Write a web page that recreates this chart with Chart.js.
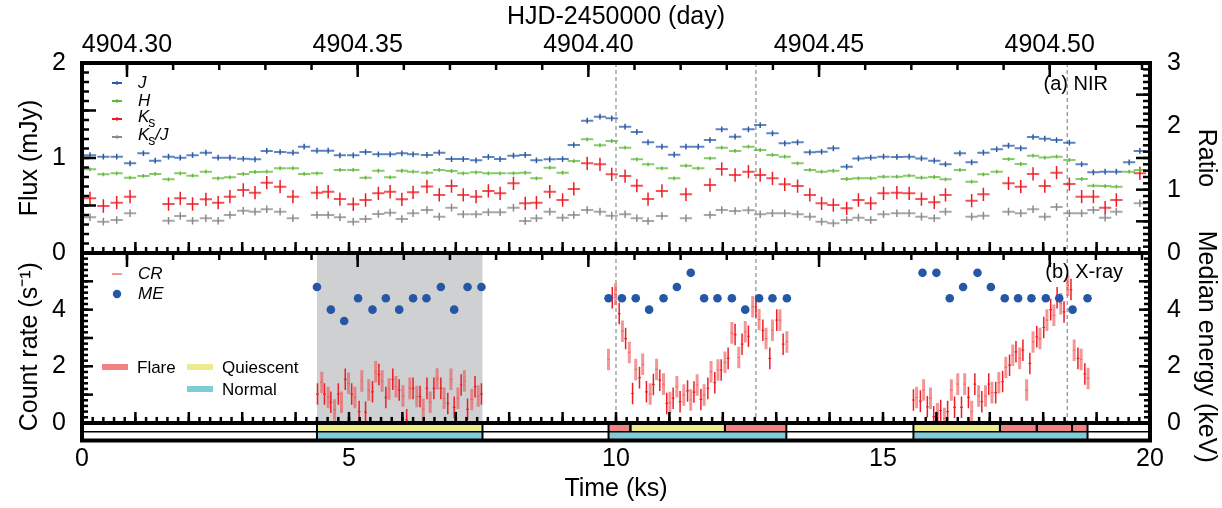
<!DOCTYPE html>
<html>
<head>
<meta charset="utf-8">
<title>NIR and X-ray light curves</title>
<script src="https://cdn.jsdelivr.net/npm/chart.js@4.4.1/dist/chart.umd.min.js"></script>
<style>
  html, body { margin: 0; padding: 0; background: #fff; }
  #wrap { width: 1222px; height: 508px; position: relative; }
</style>
</head>
<body>
<div id="wrap"><canvas id="lc" width="1222" height="508"></canvas></div>
<script>
const FONT = "'Liberation Sans', Arial, Helvetica, sans-serif";

// HJD-2450000 at t = 0 ks
const HJD0 = 4904.29025;
const KS_PER_DAY = 86.4;

// ── NIR light curves (top panel) ────────────────────────────────────────────
const nirTime = [
  0.15, 0.40, 0.65, 0.90, 1.15, 1.37, 1.62, 1.84, 2.07, 2.32,
  2.55, 2.77, 3.02, 3.24, 3.46, 3.71, 3.95, 4.16, 4.40, 4.61,
  4.83, 5.08, 5.31, 5.55, 5.77, 5.99, 6.20, 6.46, 6.69, 6.92,
  7.14, 7.38, 7.61, 7.83, 8.08, 8.30, 8.51, 8.76, 9.00, 9.21,
  9.46, 9.70, 9.92, 10.17, 10.39, 10.60, 10.86, 11.09, 11.31, 11.54,
  11.76, 11.98, 12.23, 12.48, 12.70, 12.93, 13.16, 13.40, 13.63, 13.85,
  14.07, 14.32, 14.54, 14.77, 15.01, 15.26, 15.49, 15.72, 15.96, 16.17,
  16.44, 16.66, 16.88, 17.13, 17.35, 17.58, 17.81, 18.03, 18.25, 18.49,
  18.72, 18.94, 19.16, 19.37, 19.61, 19.81
];
const fluxJ = [
  1.03, 1.014, 1.014, 0.944, 1.05, 0.972, 1.014, 1.003, 1.03, 1.056,
  1.003, 1.003, 0.992, 0.986, 1.074, 1.063, 1.056, 1.119, 1.077, 1.077,
  1.028, 1.028, 1.063, 1.039, 1.039, 1.049, 1.039, 1.032, 1.056, 0.989,
  0.989, 0.976, 1.011, 0.989, 1.024, 1.032, 0.976, 0.986, 0.989, 1.137,
  1.393, 1.435, 1.418, 1.33, 1.274, 1.165, 1.119, 1.035, 1.119, 1.119,
  1.189, 1.302, 1.225, 1.302, 1.347, 1.26, 1.155, 1.165, 1.06, 1.066,
  1.102, 0.908, 0.996, 1.003, 1.014, 1.011, 1.014, 0.996, 0.972, 0.934,
  1.049, 0.955, 1.056, 1.092, 1.13, 1.102, 1.221, 1.203, 1.189, 1.161,
  0.934, 0.849, 0.856, 0.856, 0.955, 1.074
];
const fluxH = [
  0.881, 0.828, 0.839, 0.793, 0.811, 0.832, 0.776, 0.839, 0.814, 0.856,
  0.786, 0.797, 0.832, 0.853, 0.856, 0.892, 0.892, 0.832, 0.839, null,
  0.874, 0.874, 0.793, 0.866, 0.797, 0.866, 0.856, 0.845, 0.874, 0.863,
  0.839, 0.849, 0.839, 0.839, 0.839, 0.845, 0.786, 0.898, 0.845, 0.968,
  1.197, 1.134, 1.179, 1.109, 0.986, 0.933, 0.891, 0.786, 0.919, 0.891,
  0.997, 1.109, 1.074, 1.119, 1.084, 1.032, 1.014, 0.944, 0.874, 0.856,
  0.866, 0.779, 0.786, 0.786, 0.803, 0.803, 0.814, 0.793, 0.8, 0.776,
  0.874, 0.751, 0.828, 0.856, 0.989, 0.937, 1.025, 1.004, 1.014, 0.979,
  0.779, 0.709, 0.705, 0.698, 0.856, 0.874
];
const fluxKs = [
  0.576, 0.495, 0.53, 0.593, null, null, 0.516, 0.576, 0.516, 0.565,
  0.53, 0.593, 0.663, 0.635, 0.74, 0.698, 0.593, null, 0.635, 0.645,
  0.568, 0.513, 0.558, 0.628, 0.645, 0.565, 0.639, 0.70, 0.611, 0.705,
  0.611, 0.593, 0.653, 0.628, 0.733, 0.523, 0.53, 0.646, 0.558, 0.674,
  0.944, 0.933, 0.828, 0.81, 0.709, 0.568, 0.653, null, 0.618, null,
  0.716, 0.884, 0.821, 0.856, 0.821, 0.786, 0.723, 0.705, 0.611, 0.523,
  0.505, 0.47, 0.558, 0.523, 0.628, 0.635, 0.628, 0.568, 0.533, 0.611,
  null, 0.551, 0.618, null, 0.733, 0.698, 0.832, 0.705, 0.846, 0.726,
  0.593, 0.593, 0.477, 0.558, null, 0.839
];
const ratioKsJ = [
  0.564, 0.495, 0.521, 0.627, null, null, 0.51, 0.585, 0.51, 0.548,
  0.51, 0.6, 0.668, 0.653, 0.69, 0.653, 0.548, null, 0.6, 0.6,
  0.564, 0.495, 0.537, 0.616, 0.637, 0.537, 0.627, 0.679, 0.574, 0.716,
  0.611, 0.611, 0.643, 0.643, 0.716, 0.506, 0.548, 0.653, 0.558, 0.6,
  0.679, 0.653, 0.59, 0.611, 0.548, 0.506, 0.585, null, 0.548, null,
  0.6, 0.679, 0.664, 0.674, 0.611, 0.627, 0.627, 0.611, 0.574, 0.495,
  0.469, 0.521, 0.558, 0.521, 0.611, 0.627, 0.627, 0.574, 0.548, 0.653,
  null, 0.574, 0.59, null, 0.653, 0.627, 0.69, 0.574, 0.727, 0.627,
  0.627, 0.679, 0.558, 0.653, null, 0.785
];
const nirHalfBin = 0.115;
const errJ = 0.03;
const errH = 0.02;
const errKs = 0.07;
const errRatio = 0.06;

// ── X-ray light curve (bottom panel) ────────────────────────────────────────
const crTime = [
  4.41, 4.49, 4.54, 4.61, 4.66, 4.73, 4.80, 4.86, 4.93, 4.99,
  5.05, 5.11, 5.19, 5.24, 5.31, 5.37, 5.44, 5.50, 5.56, 5.62,
  5.69, 5.75, 5.82, 5.88, 5.94, 6.01, 6.08, 6.14, 6.20, 6.27,
  6.33, 6.39, 6.46, 6.52, 6.59, 6.65, 6.72, 6.78, 6.85, 6.91,
  6.97, 7.04, 7.10, 7.16, 7.22, 7.30, 7.36, 7.42, 7.48,
  9.86, 9.93, 9.99, 10.06, 10.12, 10.18, 10.25, 10.31, 10.37, 10.44,
  10.50, 10.57, 10.64, 10.70, 10.76, 10.82, 10.89, 10.95, 11.01, 11.07,
  11.14, 11.20, 11.27, 11.34, 11.40, 11.46, 11.52, 11.59, 11.65, 11.72,
  11.78, 11.85, 11.91, 11.97, 12.04, 12.10, 12.17, 12.23, 12.30, 12.36,
  12.42, 12.48, 12.56, 12.62, 12.68, 12.75, 12.81, 12.88, 12.93, 13.01,
  13.07, 13.13, 13.20,
  15.57, 15.63, 15.70, 15.76, 15.83, 15.89, 15.95, 16.02, 16.08, 16.15,
  16.21, 16.28, 16.34, 16.40, 16.47, 16.53, 16.60, 16.66, 16.72, 16.79,
  16.85, 16.92, 16.98, 17.04, 17.11, 17.17, 17.24, 17.30, 17.37, 17.43,
  17.49, 17.56, 17.62, 17.69, 17.75, 17.81, 17.88, 17.94, 18.01, 18.07,
  18.14, 18.20, 18.26, 18.33, 18.39, 18.46, 18.52, 18.58, 18.65, 18.71,
  18.78, 18.84
];
const crRate = [
  1.02, 1.43, 1.02, 0.90, 0.73, 0.46, 1.02, 0.73, 1.54, 1.40,
  1.02, 0.90, 0.40, 1.48, 0.38, 1.16, 1.10, 1.81, 1.71, 1.48,
  0.90, 1.20, 1.54, 1.28, 1.16, 0.95, 0.11, 1.22, 1.22, 0.93,
  0.93, 0.48, 1.22, 0.73, 1.22, 1.55, 1.22, 0.87, 0.69, 1.54,
  0.55, 0.87, 1.34, 1.48, 0.48, 0.83, 1.28, 0.95, 1.02,
  2.24, 4.42, 4.54, 3.86, 3.24, 2.98, 2.49, 1.04, 1.89, 1.60,
  2.07, 1.10, 1.02, 1.36, 1.89, 1.51, 1.37, 0.69, 0.72, 0.87,
  1.28, 0.75, 0.99, 1.13, 0.81, 1.09, 1.34, 0.83, 0.99, 1.22,
  1.81, 1.42, 1.87, 1.87, 2.14, 2.28, 3.18, 3.12, 2.31, 2.78,
  3.22, 3.06, 4.10, 4.10, 3.65, 3.27, 2.98, 2.28, 3.27, 3.63,
  3.63, 2.78, 2.86,
  0.81, 0.90, 0.77, 1.16, 0.57, 0.87, 0.22, 0.32, 0.44, 0.16,
  0.40, 1.16, 0.55, 1.37, 0.55, 1.37, 0.90, 0.40, 1.37, 0.95,
  0.75, 0.95, 1.37, 1.07, 1.07, 1.42, 1.46, 1.96, 2.04, 2.39,
  2.51, 2.28, 2.57, 1.16, 2.10, 2.86, 3.04, 2.98, 3.37, 3.63,
  4.00, 3.80, 4.42, 4.21, 3.92, 4.86, 4.71, 2.57, 2.28, 2.24,
  1.73, 1.57
];
const crErr = 0.38;
const crHalfBin = 0.025;

const meTime = [
  4.40, 4.66, 4.91, 5.17, 5.44, 5.69, 5.94, 6.20, 6.45, 6.72, 6.97, 7.22, 7.48,
  9.86, 10.11, 10.37, 10.62, 10.89, 11.14, 11.40, 11.65, 11.90, 12.17, 12.42, 12.68, 12.93, 13.20,
  15.74, 16.00, 16.25, 16.50, 16.77, 17.02, 17.28, 17.53, 17.78, 18.05, 18.30, 18.55, 18.83
];
const meValue = [
  4.8, 4.0, 3.6, 4.4, 4.0, 4.4, 4.0, 4.4, 4.4, 4.8, 4.0, 4.8, 4.8,
  4.4, 4.4, 4.4, 4.0, 4.4, 4.8, 5.3, 4.4, 4.4, 4.4, 4.0, 4.4, 4.4, 4.4,
  5.3, 5.3, 4.4, 4.8, 5.3, 4.8, 4.4, 4.4, 4.4, 4.4, 4.4, 4.0, 4.4
];

// flare peaks (dotted lines) and the shaded interval
const flarePeaks = [10.00, 12.62, 18.45];
const shadedSpan = [4.40, 7.50];

// activity states along the time axis
const stateStart = [4.40, 9.86, 10.27, 12.04, 15.57, 17.19, 17.88, 18.54];
const stateEnd   = [7.50, 10.27, 12.04, 13.19, 17.19, 17.88, 18.54, 18.83];
const stateName  = ['Quiescent', 'Flare', 'Quiescent', 'Flare', 'Quiescent', 'Flare', 'Flare', 'Flare'];
const normalStart = [4.40, 9.86, 15.57];
const normalEnd   = [7.50, 13.19, 18.83];

// tick labels
const timeTicks = [0, 5, 10, 15, 20];
const hjdTicks = [4904.30, 4904.35, 4904.40, 4904.45, 4904.50];
const fluxTicks = [0, 1, 2];
const ratioTicks = [0, 1, 2, 3];
const rateTicks = [0, 2, 4];
const energyTicks = [0, 2, 4];

const colors = {
  J: '#2b5ba8',
  H: '#62b83a',
  Ks: '#ee1c24',
  ratio: '#8a8a8a',
  me: '#2457a5',
  cr: '#ee1c24',
  crLight: 'rgba(238,80,80,0.6)',
  shade: '#cfd0d2',
  Flare: '#f08282',
  Quiescent: '#ecec8c',
  Normal: '#80ccd6',
};

// ── helpers ─────────────────────────────────────────────────────────────────

// horizontal bars (time bin) as separate line segments
function hBars(xs, ys, half) {
  const out = [];
  xs.forEach((t, i) => {
    if (ys[i] == null) return;
    out.push({ x: t - half, y: ys[i] }, { x: t + half, y: ys[i] }, { x: t, y: null });
  });
  return out;
}

// vertical error bars
function vBars(xs, ys, err) {
  const out = [];
  xs.forEach((t, i) => {
    if (ys[i] == null) return;
    out.push({ x: t, y: ys[i] - err }, { x: t, y: ys[i] + err }, { x: t, y: null });
  });
  return out;
}

const everyOther = (arr, parity) => arr.filter((_, i) => i % 2 === parity);

function segs(data, color, width, yAxisID) {
  return {
    type: 'line', data, xAxisID: 'x', yAxisID,
    borderColor: color, borderWidth: width, borderCapStyle: 'butt',
    pointRadius: 0, fill: false, tension: 0, spanGaps: false,
  };
}

function crossSet(ys, err, color, yAxisID) {
  return [
    segs(vBars(nirTime, ys, err), color, 1.5, yAxisID),
    segs(hBars(nirTime, ys, nirHalfBin), color + 'c0', 2, yAxisID),
  ];
}

const crDark = [everyOther(crTime, 0), everyOther(crRate, 0)];
const crSoft = [everyOther(crTime, 1), everyOther(crRate, 1)];

// ── axis decoration ─────────────────────────────────────────────────────────

function tickRun(ctx, scale, step, lo, hi, len, fixed, sign, horizontal) {
  const first = Math.ceil(lo / step - 1e-6);
  const last = Math.floor(hi / step + 1e-6);
  for (let k = first; k <= last; k++) {
    const p = scale.getPixelForValue(k * step);
    ctx.beginPath();
    if (horizontal) { ctx.moveTo(p, fixed); ctx.lineTo(p, fixed + sign * len); }
    else { ctx.moveTo(fixed, p); ctx.lineTo(fixed + sign * len, p); }
    ctx.stroke();
  }
}

function drawStateStrip(chart) {
  const { ctx, scales: { x, yRate } } = chart;
  const y0 = yRate.getPixelForValue(0);
  const y1 = yRate.bottom;
  const yMid = (y0 + y1) / 2;
  ctx.save();
  ctx.fillStyle = '#fff';
  ctx.fillRect(x.left, y0, x.right - x.left, y1 - y0);

  stateStart.forEach((s, i) => {
    const a = x.getPixelForValue(s), b = x.getPixelForValue(stateEnd[i]);
    ctx.fillStyle = colors[stateName[i]];
    ctx.fillRect(a, y0, b - a, yMid - y0);
  });
  normalStart.forEach((s, i) => {
    const a = x.getPixelForValue(s), b = x.getPixelForValue(normalEnd[i]);
    ctx.fillStyle = colors.Normal;
    ctx.fillRect(a, yMid, b - a, y1 - yMid);
  });

  ctx.strokeStyle = '#000';
  ctx.lineWidth = 1.5;
  ctx.beginPath();
  ctx.moveTo(x.left, yMid); ctx.lineTo(x.right, yMid);
  ctx.stroke();

  ctx.lineWidth = 2;
  const edges = (starts, ends, top, bot) => {
    starts.concat(ends).forEach(t => {
      const p = x.getPixelForValue(t);
      ctx.beginPath(); ctx.moveTo(p, top); ctx.lineTo(p, bot); ctx.stroke();
    });
  };
  edges(stateStart, stateEnd, y0, yMid);
  edges(normalStart, normalEnd, yMid, y1);
  ctx.restore();
}

function drawFrames(chart) {
  const { ctx, scales: { x, x2, yFlux, yRatio, yRate, yME } } = chart;
  const w = x.right - x.left;
  const y0 = yRate.getPixelForValue(0);
  ctx.save();
  ctx.strokeStyle = '#000';

  // inward ticks
  ctx.lineWidth = 2.5;
  // top axis (HJD)
  tickRun(ctx, x2, 0.05, x2.min, x2.max, 14, yFlux.top, 1, true);
  tickRun(ctx, x2, 0.01, x2.min, x2.max, 7, yFlux.top, 1, true);
  // time ticks on the bottom of the NIR panel
  tickRun(ctx, x, 1, 0, 20, 11, yFlux.bottom, -1, true);
  tickRun(ctx, x, 0.2, 0, 20, 6, yFlux.bottom, -1, true);
  // HJD ticks on the top of the X-ray panel
  tickRun(ctx, x2, 0.05, x2.min, x2.max, 14, yRate.top, 1, true);
  tickRun(ctx, x2, 0.01, x2.min, x2.max, 7, yRate.top, 1, true);
  // time ticks on the count-rate zero line
  tickRun(ctx, x, 1, 0, 20, 11, y0, -1, true);
  tickRun(ctx, x, 0.2, 0, 20, 6, y0, -1, true);
  // flux / ratio
  tickRun(ctx, yFlux, 0.5, 0, 2, 14, x.left, 1, false);
  tickRun(ctx, yFlux, 0.1, 0, 2, 7, x.left, 1, false);
  tickRun(ctx, yRatio, 0.5, 0, 3, 14, x.right, -1, false);
  tickRun(ctx, yRatio, 0.1, 0, 3, 7, x.right, -1, false);
  // count rate / median energy
  tickRun(ctx, yRate, 1, 0, 6, 11, x.left, 1, false);
  tickRun(ctx, yRate, 0.2, 0, 6, 6, x.left, 1, false);
  tickRun(ctx, yME, 1, 0, 6, 11, x.right, -1, false);
  tickRun(ctx, yME, 0.2, 0, 6, 6, x.right, -1, false);

  // panel frames
  ctx.lineWidth = 4;
  ctx.strokeRect(x.left, yFlux.top, w, yFlux.bottom - yFlux.top);
  ctx.strokeRect(x.left, yRate.top, w, yRate.bottom - yRate.top);
  ctx.beginPath();
  ctx.moveTo(x.left, y0); ctx.lineTo(x.right, y0);
  ctx.stroke();
  ctx.restore();
}

function drawKs(ctx, px, py, size, slashJ) {
  ctx.font = `italic ${size}px ${FONT}`;
  ctx.fillText('K', px, py);
  let w = ctx.measureText('K').width;
  ctx.font = `${Math.round(size * 0.8)}px ${FONT}`;
  ctx.fillText('s', px + w - 1, py + 6);
  w += ctx.measureText('s').width - 1;
  if (slashJ) {
    ctx.font = `italic ${size}px ${FONT}`;
    ctx.fillText('/J', px + w, py);
  }
}

function drawLegends(chart) {
  const { ctx, chartArea: ca, scales: { yFlux, yRate } } = chart;
  ctx.save();
  ctx.textBaseline = 'middle';
  ctx.textAlign = 'left';
  ctx.fillStyle = '#000';

  // NIR legend
  const mx = ca.left + 35, tx = ca.left + 56;
  const nirRows = [colors.J, colors.H, colors.Ks, colors.ratio];
  nirRows.forEach((c, i) => {
    const y = yFlux.top + 20 + i * 18;
    ctx.strokeStyle = c;
    ctx.lineWidth = 2;
    ctx.beginPath(); ctx.moveTo(mx - 5, y); ctx.lineTo(mx + 5, y); ctx.stroke();
    ctx.lineWidth = 1.2;
    ctx.beginPath(); ctx.moveTo(mx, y - 2); ctx.lineTo(mx, y + 2); ctx.stroke();
  });
  ctx.fillStyle = '#000';
  ctx.font = `italic 17px ${FONT}`;
  ctx.fillText('J', tx, yFlux.top + 20);
  ctx.fillText('H', tx, yFlux.top + 38);
  drawKs(ctx, tx, yFlux.top + 54, 17, false);
  drawKs(ctx, tx, yFlux.top + 72, 17, true);

  // X-ray legend
  const yCR = yRate.top + 21, yME = yRate.top + 41;
  ctx.strokeStyle = colors.crLight;
  ctx.lineWidth = 2;
  ctx.beginPath(); ctx.moveTo(mx - 5, yCR); ctx.lineTo(mx + 5, yCR); ctx.stroke();
  ctx.fillStyle = colors.me;
  ctx.beginPath(); ctx.arc(mx, yME, 4.2, 0, Math.PI * 2); ctx.fill();
  ctx.fillStyle = '#000';
  ctx.font = `italic 17px ${FONT}`;
  ctx.fillText('CR', tx, yCR);
  ctx.fillText('ME', tx, yME);

  // state legend
  const yA = yRate.top + 114, yB = yRate.top + 136;
  const keys = [
    ['Flare', ca.left + 20, yA],
    ['Quiescent', ca.left + 105, yA],
    ['Normal', ca.left + 105, yB],
  ];
  ctx.font = `17px ${FONT}`;
  keys.forEach(([name, kx, ky]) => {
    ctx.fillStyle = colors[name];
    ctx.fillRect(kx, ky - 3, 26, 6);
    ctx.fillStyle = '#000';
    ctx.fillText(name, kx + 35, ky + 1);
  });

  // panel tags
  ctx.textAlign = 'right';
  ctx.font = `20px ${FONT}`;
  ctx.fillText('(a) NIR', ca.right - 42, yFlux.top + 21);
  ctx.fillText('(b) X-ray', ca.right - 27, yRate.top + 19);
  ctx.restore();
}

const panelDecor = {
  id: 'panelDecor',
  beforeDatasetsDraw(chart) {
    const { ctx, scales: { x, yFlux, yRate } } = chart;
    ctx.save();
    const a = x.getPixelForValue(shadedSpan[0]), b = x.getPixelForValue(shadedSpan[1]);
    ctx.fillStyle = colors.shade;
    ctx.fillRect(a, yRate.top, b - a, yRate.getPixelForValue(0) - yRate.top);

    ctx.strokeStyle = '#8c8c8c';
    ctx.lineWidth = 1.2;
    ctx.setLineDash([4, 3]);
    flarePeaks.forEach(t => {
      const p = x.getPixelForValue(t);
      ctx.beginPath();
      ctx.moveTo(p, yFlux.top);
      ctx.lineTo(p, yRate.getPixelForValue(0));
      ctx.stroke();
    });
    ctx.restore();
  },
  afterDatasetsDraw(chart) {
    drawStateStrip(chart);
    drawFrames(chart);
    drawLegends(chart);
  },
};

// ── chart ───────────────────────────────────────────────────────────────────

const tickFont = { family: FONT, size: 25 };
const titleFont = { family: FONT, size: 25 };
const fixedTicks = vals => s => { s.ticks = vals.map(v => ({ value: v })); };
const plain = { display: false, drawTicks: false };

new Chart(document.getElementById('lc'), {
  type: 'line',
  data: {
    datasets: [
      {
        type: 'line', data: meTime.map((t, i) => ({ x: t, y: meValue[i] })),
        xAxisID: 'x', yAxisID: 'yME', showLine: false,
        pointRadius: 4.3, pointBackgroundColor: colors.me, pointBorderWidth: 0,
      },
      segs(vBars(crDark[0], crDark[1], crErr), colors.cr, 1.5, 'yRate'),
      segs(hBars(crDark[0], crDark[1], crHalfBin), colors.cr, 1.2, 'yRate'),
      segs(vBars(crSoft[0], crSoft[1], crErr), colors.crLight, 3, 'yRate'),
      segs(hBars(crSoft[0], crSoft[1], crHalfBin), colors.crLight, 1.2, 'yRate'),
      ...crossSet(fluxJ, errJ, colors.J, 'yFlux'),
      ...crossSet(fluxH, errH, colors.H, 'yFlux'),
      ...crossSet(fluxKs, errKs, colors.Ks, 'yFlux'),
      ...crossSet(ratioKsJ, errRatio, colors.ratio, 'yRatio'),
    ],
  },
  options: {
    responsive: false,
    maintainAspectRatio: false,
    animation: false,
    events: [],
    layout: { padding: 0 },
    plugins: { legend: { display: false }, tooltip: { enabled: false } },
    scales: {
      x: {
        type: 'linear', position: 'bottom', min: 0, max: 20,
        afterBuildTicks: fixedTicks(timeTicks),
        afterFit: s => { s.height = 67.5; },
        grid: plain, border: { display: false },
        ticks: { color: '#000', font: tickFont, padding: 4, maxRotation: 0, autoSkip: false },
        title: { display: true, text: 'Time (ks)', color: '#000', font: titleFont, padding: { top: 0, bottom: 4 } },
      },
      x2: {
        type: 'linear', position: 'top', min: HJD0, max: HJD0 + 20 / KS_PER_DAY,
        afterBuildTicks: fixedTicks(hjdTicks),
        afterFit: s => { s.height = 63; },
        grid: plain, border: { display: false },
        ticks: { color: '#000', font: tickFont, padding: 3, maxRotation: 0, autoSkip: false, callback: v => v.toFixed(2) },
        title: { display: true, text: 'HJD-2450000 (day)', color: '#000', font: titleFont, padding: { top: 2, bottom: 0 } },
      },
      yRate: {
        type: 'linear', position: 'left', stack: 'L', stackWeight: 187.5, min: -0.62, max: 6,
        afterBuildTicks: fixedTicks(rateTicks),
        afterFit: s => { s.width = 82; },
        grid: plain, border: { display: false },
        ticks: { color: '#000', font: tickFont, padding: 16 },
        title: { display: true, text: 'Count rate (s⁻¹)', color: '#000', font: titleFont, padding: { top: 15, bottom: 0 } },
      },
      yFlux: {
        type: 'linear', position: 'left', stack: 'L', stackWeight: 190, min: 0, max: 2,
        afterBuildTicks: fixedTicks(fluxTicks),
        afterFit: s => { s.width = 82; },
        grid: plain, border: { display: false },
        ticks: { color: '#000', font: tickFont, padding: 16 },
        title: { display: true, text: 'Flux (mJy)', color: '#000', font: titleFont, padding: { top: 15, bottom: 0 } },
      },
      yRatio: {
        type: 'linear', position: 'right', stack: 'R', stackWeight: 190, min: 0, max: 3,
        afterBuildTicks: fixedTicks(ratioTicks),
        afterFit: s => { s.width = 72; },
        grid: plain, border: { display: false },
        ticks: { color: '#000', font: tickFont, padding: 17 },
        title: { display: true, text: 'Ratio', color: '#000', font: titleFont, padding: { top: 1, bottom: 0 } },
      },
      yME: {
        type: 'linear', position: 'right', stack: 'R', stackWeight: 187.5, min: -0.62, max: 6,
        afterBuildTicks: fixedTicks(energyTicks),
        afterFit: s => { s.width = 72; },
        grid: plain, border: { display: false },
        ticks: { color: '#000', font: tickFont, padding: 17 },
        title: { display: true, text: 'Median energy (keV)', color: '#000', font: titleFont, padding: { top: 1, bottom: 0 } },
      },
    },
  },
  plugins: [panelDecor],
});
</script>
</body>
</html>
